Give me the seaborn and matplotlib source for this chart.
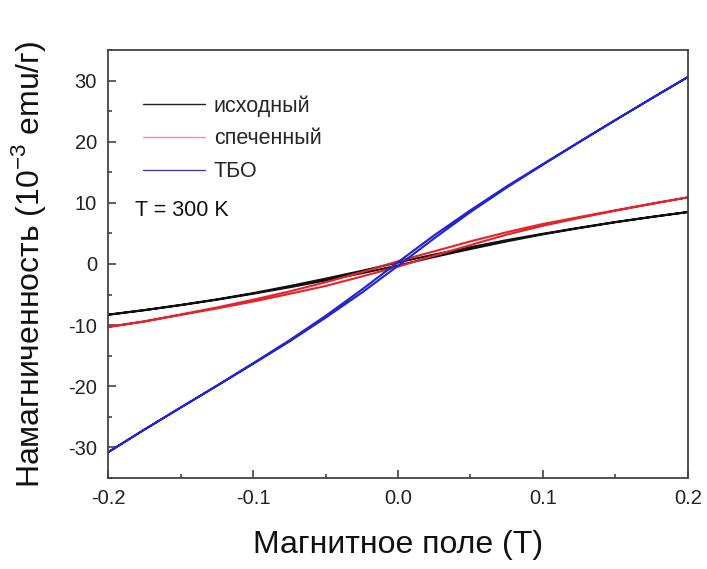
import numpy as np
import pandas as pd
import matplotlib
matplotlib.use("Agg")
import matplotlib.pyplot as plt
from matplotlib.ticker import MultipleLocator
from matplotlib.lines import Line2D
import seaborn as sns

# Field grid, tesla (ascending)
field = [-0.2, -0.175, -0.15, -0.125, -0.1, -0.075, -0.05, -0.025, 0.0,
         0.025, 0.05, 0.075, 0.1, 0.125, 0.15, 0.175, 0.2]

# Magnetization, 10^-3 emu/g: descending-field branch and ascending-field branch
iskh_down = [-8.3, -7.54, -6.70, -5.79, -4.77, -3.62, -2.40, -1.12, 0.25,
             1.55, 2.75, 3.90, 4.95, 5.93, 6.87, 7.71, 8.5]
iskh_up = [-8.3, -7.56, -6.74, -5.85, -4.87, -3.82, -2.70, -1.52, -0.25,
           1.15, 2.45, 3.70, 4.85, 5.87, 6.83, 7.69, 8.5]

spech_down = [-10.3, -9.38, -8.26, -7.12, -5.85, -4.5, -3.0, -1.35, 0.45,
              2.07, 3.7, 5.2, 6.55, 7.68, 8.79, 9.87, 10.9]
spech_up = [-10.3, -9.42, -8.34, -7.28, -6.15, -4.9, -3.6, -2.05, -0.45,
            1.37, 3.1, 4.8, 6.25, 7.52, 8.71, 9.83, 10.9]

tbo_down = [-30.8, -27.1, -23.5, -19.91, -16.25, -12.5, -8.5, -4.2, 0.3,
            4.7, 8.8, 12.7, 16.35, 19.97, 23.55, 27.1, 30.6]
tbo_up = [-30.8, -27.1, -23.5, -19.95, -16.35, -12.7, -8.8, -4.7, -0.3,
          4.2, 8.5, 12.5, 16.25, 19.93, 23.55, 27.1, 30.6]

labels = ["исходный", "спеченный", "ТБО"]
colors = ["#111111", "#e3242b", "#2323d0"]
legend_colors = ["#222222", "#e89a9a", "#3a3ad6"]


def loop_frame(name, down, up):
    # Closed loop: sweep from +0.2 T down to -0.2 T, then back up
    h = field[::-1] + field
    m = down[::-1] + up
    return pd.DataFrame({"H": h, "M": m, "sample": name,
                         "order": np.arange(len(h))})


df = pd.concat([
    loop_frame(labels[0], iskh_down, iskh_up),
    loop_frame(labels[1], spech_down, spech_up),
    loop_frame(labels[2], tbo_down, tbo_up),
], ignore_index=True)

sns.set_theme(style="ticks")
plt.rcParams["font.family"] = ["Liberation Sans", "DejaVu Sans"]
plt.rcParams["mathtext.fontset"] = "custom"
plt.rcParams["mathtext.rm"] = "Liberation Sans"

fig = plt.figure(figsize=(7.07, 5.69), dpi=100)
ax = fig.add_axes([0.1528, 0.16, 0.8203, 0.7521])

sns.lineplot(data=df, x="H", y="M", hue="sample", units="sample",
             estimator=None, sort=False, palette=dict(zip(labels, colors)),
             linewidth=1.5, legend=False, ax=ax)

ax.set_xlim(-0.2, 0.2)
ax.set_ylim(-35, 35)
ax.xaxis.set_minor_locator(MultipleLocator(0.05))
ax.yaxis.set_minor_locator(MultipleLocator(5))
ax.set_xticks([-0.2, -0.1, 0.0, 0.1, 0.2])
ax.set_xticklabels(["-0.2", "-0.1", "0.0", "0.1", "0.2"])
ax.set_yticks([-30, -20, -10, 0, 10, 20, 30])
ax.set_yticklabels(["-30", "-20", "-10", "0", "10", "20", "30"])

ax.tick_params(which="major", direction="in", length=5.5, width=1.1,
               labelsize=14.5, colors="#333333", labelcolor="#222222", pad=8)
ax.tick_params(which="minor", direction="in", length=3, width=1.1,
               colors="#333333")
for sp in ax.spines.values():
    sp.set_visible(True)
    sp.set_linewidth(1.3)
    sp.set_color("#444444")

ax.set_xlabel("Магнитное поле (Т)", fontsize=23, color="#111111", labelpad=16)
ax.set_ylabel(r"Намагниченность (10$^{-3}$ emu/г)", fontsize=23,
              color="#111111", labelpad=14)

handles = [Line2D([0], [0], color=c, lw=1.0) for c in legend_colors]
ax.legend(handles, labels, loc="upper left", bbox_to_anchor=(0.045, 0.915),
          frameon=False, fontsize=15.5, handlelength=2.9, handletextpad=0.4,
          labelspacing=0.55, borderaxespad=0.0)
ax.text(0.047, 0.624, "T = 300 K", transform=ax.transAxes, fontsize=15.5,
        color="#111111", va="center", ha="left")

fig.savefig("out.png", dpi=100)
